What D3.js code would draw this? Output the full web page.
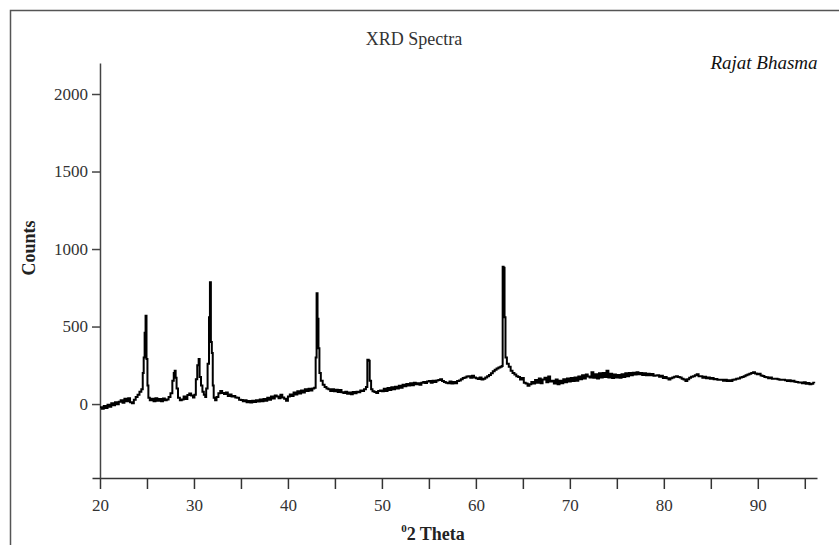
<!DOCTYPE html>
<html>
<head>
<meta charset="utf-8">
<script src="https://cdn.jsdelivr.net/npm/d3@7"></script>
<style>
  body { margin: 0; background: #fff; }
  svg { display: block; }
</style>
</head>
<body>
<svg id="canvas-box" width="839" height="545"></svg>
<script>
// tick values
var xTicks = [20, 25, 30, 35, 40, 45, 50, 55, 60, 65, 70, 75, 80, 85, 90, 95]
var yTicks = [0, 500, 1000, 1500, 2000]

// spectrum (2 theta in degrees, counts)
var twoTheta = [
  20.0, 20.2, 20.4, 20.6, 20.8, 21.0, 21.2, 21.4, 21.6, 21.8,
  22.0, 22.2, 22.4, 22.6, 22.8, 23.0, 23.2, 23.4, 23.6, 23.8,
  24.0, 24.2, 24.4, 24.55, 24.65, 24.75, 24.85, 24.95, 25.05, 25.15,
  25.3, 25.5, 25.7, 25.9, 26.1, 26.3, 26.5, 26.7, 26.9, 27.1,
  27.3, 27.5, 27.7, 27.85, 27.95, 28.05, 28.15, 28.3, 28.5, 28.7,
  28.9, 29.1, 29.3, 29.5, 29.7, 29.9, 30.05, 30.2, 30.35, 30.5,
  30.6, 30.75, 30.9, 31.05, 31.2, 31.3, 31.45, 31.6, 31.7, 31.8,
  31.9, 32.0, 32.1, 32.25, 32.4, 32.6, 32.8, 33.0, 33.2, 33.4,
  33.6, 33.8, 34.0, 34.2, 34.4, 34.6, 34.8, 35.0, 35.2, 35.4,
  35.6, 35.8, 36.0, 36.2, 36.4, 36.6, 36.8, 37.0, 37.2, 37.4,
  37.6, 37.8, 38.0, 38.2, 38.4, 38.6, 38.8, 39.0, 39.2, 39.4,
  39.6, 39.8, 40.0, 40.2, 40.4, 40.6, 40.8, 41.0, 41.2, 41.4,
  41.6, 41.8, 42.0, 42.2, 42.4, 42.6, 42.8, 42.95, 43.05, 43.15,
  43.25, 43.35, 43.5, 43.7, 43.9, 44.1, 44.3, 44.5, 44.7, 44.9,
  45.1, 45.3, 45.5, 45.7, 45.9, 46.1, 46.3, 46.5, 46.7, 46.9,
  47.1, 47.3, 47.5, 47.7, 47.9, 48.1, 48.3, 48.45, 48.6, 48.7,
  48.85, 49.0, 49.2, 49.4, 49.6, 49.8, 50.0, 50.2, 50.4, 50.6,
  50.8, 51.0, 51.2, 51.4, 51.6, 51.8, 52.0, 52.2, 52.4, 52.6,
  52.8, 53.0, 53.2, 53.4, 53.6, 53.8, 54.0, 54.2, 54.4, 54.6,
  54.8, 55.0, 55.2, 55.4, 55.6, 55.8, 56.0, 56.2, 56.4, 56.6,
  56.8, 57.0, 57.2, 57.4, 57.6, 57.8, 58.0, 58.2, 58.4, 58.6,
  58.8, 59.0, 59.2, 59.4, 59.6, 59.8, 60.0, 60.2, 60.4, 60.6,
  60.8, 61.0, 61.2, 61.4, 61.6, 61.8, 62.0, 62.2, 62.4, 62.6,
  62.75, 62.85, 62.95, 63.05, 63.15, 63.3, 63.5, 63.7, 63.9, 64.1,
  64.3, 64.5, 64.7, 64.9, 65.1, 65.3, 65.5, 65.7, 65.9, 66.1,
  66.3, 66.5, 66.7, 66.9, 67.1, 67.3, 67.5, 67.7, 67.9, 68.1,
  68.3, 68.5, 68.7, 68.9, 69.1, 69.3, 69.5, 69.7, 69.9, 70.1,
  70.3, 70.5, 70.7, 70.9, 71.1, 71.3, 71.5, 71.7, 71.9, 72.1,
  72.3, 72.5, 72.7, 72.9, 73.1, 73.3, 73.5, 73.7, 73.9, 74.1,
  74.3, 74.5, 74.7, 74.9, 75.1, 75.3, 75.5, 75.7, 75.9, 76.1,
  76.3, 76.5, 76.7, 76.9, 77.1, 77.3, 77.5, 77.7, 77.9, 78.1,
  78.3, 78.5, 78.7, 78.9, 79.1, 79.3, 79.5, 79.7, 79.9, 80.1,
  80.3, 80.5, 80.7, 80.9, 81.1, 81.3, 81.5, 81.7, 81.9, 82.1,
  82.3, 82.5, 82.7, 82.9, 83.1, 83.3, 83.5, 83.7, 83.9, 84.1,
  84.3, 84.5, 84.7, 84.9, 85.1, 85.3, 85.5, 85.7, 85.9, 86.1,
  86.3, 86.5, 86.7, 86.9, 87.1, 87.3, 87.5, 87.7, 87.9, 88.1,
  88.3, 88.5, 88.7, 88.9, 89.1, 89.3, 89.5, 89.7, 89.9, 90.1,
  90.3, 90.5, 90.7, 90.9, 91.1, 91.3, 91.5, 91.7, 91.9, 92.1,
  92.3, 92.5, 92.7, 92.9, 93.1, 93.3, 93.5, 93.7, 93.9, 94.1,
  94.3, 94.5, 94.7, 94.9, 95.1, 95.3, 95.5, 95.7, 95.9, 96.0
]
var counts = [
  -20, -30, -12, -25, -5, -18, 5, -8, 12, -2,
  15, 25, 8, 35, 18, 38, 12, 5, 28, 45,
  60, 80, 95, 200, 300, 460, 570, 290, 120, 40,
  25, 35, 18, 38, 22, 32, 18, 36, 24, 30,
  45, 70, 150, 200, 215, 170, 100, 40, 25, 30,
  48, 32, 58, 68, 55, 42, 60, 160, 250, 290,
  175, 120, 80, 60, 45, 100, 260, 560, 785, 400,
  330, 120, 40, 25, 45, 70, 85, 72, 65, 75,
  52, 62, 48, 52, 42, 40, 28, 26, 18, 24,
  12, 20, 10, 22, 14, 24, 16, 30, 18, 32,
  22, 40, 28, 48, 36, 55, 48, 38, 60, 42,
  35, 22, 48, 62, 52, 75, 62, 82, 68, 88,
  75, 95, 85, 98, 88, 100, 105, 300, 715, 550,
  360, 200, 150, 125, 110, 100, 95, 85, 95, 82,
  92, 78, 90, 76, 72, 80, 66, 74, 64, 78,
  70, 80, 76, 88, 84, 95, 110, 285, 280, 150,
  95, 82, 78, 72, 85, 88, 82, 98, 85, 104,
  90, 108, 95, 112, 100, 118, 105, 124, 115, 130,
  120, 134, 122, 138, 128, 135, 125, 138, 142, 136,
  145, 148, 138, 150, 142, 152, 155, 160, 148, 142,
  138, 135, 145, 132, 142, 135, 148, 152, 160, 168,
  172, 178, 180, 170, 182, 172, 166, 162, 172, 158,
  164, 172, 180, 188, 198, 212, 222, 230, 235, 240,
  245, 885, 880, 560, 300, 260, 240, 215, 200, 190,
  180, 175, 158, 168, 138, 132, 118, 128, 142, 132,
  155, 138, 165, 135, 158, 170, 140, 178, 145, 150,
  132, 158, 128, 150, 135, 160, 140, 165, 145, 168,
  148, 172, 150, 178, 160, 185, 165, 190, 178, 172,
  205, 170, 192, 165, 198, 172, 200, 175, 215, 172,
  195, 168, 190, 172, 188, 170, 192, 175, 198, 180,
  200, 185, 202, 190, 205, 192, 200, 188, 198, 186,
  196, 186, 194, 183, 184, 186, 176, 182, 168, 174,
  166, 158, 166, 172, 176, 180, 174, 172, 163, 158,
  148, 160, 170, 176, 180, 186, 192, 180, 180, 170,
  176, 166, 172, 163, 168, 160, 162, 156, 156, 157,
  150, 156, 148, 153, 149, 156, 158, 163, 165, 171,
  175, 179, 185, 191, 195, 201, 205, 197, 192, 196,
  184, 181, 174, 173, 166, 171, 164, 163, 164, 160,
  157, 156, 157, 153, 149, 153, 147, 151, 144, 143,
  139, 139, 134, 141, 131, 136, 127, 131, 137, 135
]

var svg = d3.select("#canvas-box")
var serif = "Liberation Serif, Times New Roman, serif"

// outer frame
svg.append("rect")
    .attr("x", 10.5)
    .attr("y", 10.5)
    .attr("width", 900)
    .attr("height", 600)
    .attr("fill", "white")
    .attr("stroke", "#555")
    .attr("stroke-width", 1.5)

var x = d3.scaleLinear().domain([19.15, 96.3]).range([92, 817])
var y = d3.scaleLinear().domain([-477, 2200]).range([478, 63])

// x axis
var xAxis = svg.append("g")
    .attr("transform", "translate(0," + y(-477) + ")")
    .call(d3.axisBottom(x)
        .tickValues(xTicks)
        .tickFormat(function(d) { return d % 10 === 0 ? d : "" })
        .tickSize(11)
        .tickSizeOuter(0)
        .tickPadding(10))
xAxis.attr("font-family", serif).attr("font-size", 17)
xAxis.selectAll(".tick text").attr("fill", "#333")
xAxis.select(".domain").attr("stroke", "#333").attr("stroke-width", 1.5)
xAxis.selectAll(".tick line").attr("stroke", "#333").attr("stroke-width", 1.5)

// y axis
var yAxis = svg.append("g")
    .attr("transform", "translate(" + x(20) + ",0)")
    .call(d3.axisLeft(y)
        .tickValues(yTicks)
        .tickFormat(d3.format("d"))
        .tickSize(8)
        .tickSizeOuter(0)
        .tickPadding(4))
yAxis.attr("font-family", serif).attr("font-size", 17)
yAxis.selectAll(".tick text").attr("fill", "#333")
yAxis.select(".domain").attr("stroke", "#444").attr("stroke-width", 1.5)
yAxis.selectAll(".tick line").attr("stroke", "#444").attr("stroke-width", 1.5)

// spectrum line
var points = twoTheta.map(function(t, i) { return [t, counts[i]] })
var line = d3.line()
    .curve(d3.curveStepAfter)
    .x(function(d) { return x(d[0]) })
    .y(function(d) { return y(d[1]) })

svg.append("path")
    .datum(points)
    .attr("d", line)
    .attr("fill", "none")
    .attr("stroke", "black")
    .attr("stroke-width", 2)

// titles
svg.append("text")
    .attr("x", 414)
    .attr("y", 45)
    .attr("text-anchor", "middle")
    .attr("font-family", serif)
    .attr("font-size", 18)
    .attr("fill", "#333")
    .text("XRD Spectra")

svg.append("text")
    .attr("x", 764)
    .attr("y", 69)
    .attr("text-anchor", "middle")
    .attr("font-family", serif)
    .attr("font-style", "italic")
    .attr("font-size", 19)
    .attr("fill", "#111")
    .text("Rajat Bhasma")

svg.append("text")
    .attr("transform", "translate(35,248) rotate(-90)")
    .attr("text-anchor", "middle")
    .attr("font-family", serif)
    .attr("font-weight", "bold")
    .attr("font-size", 18)
    .attr("fill", "#222")
    .text("Counts")

var xLabel = svg.append("text")
    .attr("x", 433)
    .attr("y", 540)
    .attr("text-anchor", "middle")
    .attr("font-family", serif)
    .attr("font-weight", "bold")
    .attr("fill", "#222")
xLabel.append("tspan")
    .attr("font-size", 11)
    .attr("dy", -8)
    .text("0")
xLabel.append("tspan")
    .attr("font-size", 18)
    .attr("dy", 8)
    .text("2 Theta")
</script>
</body>
</html>
